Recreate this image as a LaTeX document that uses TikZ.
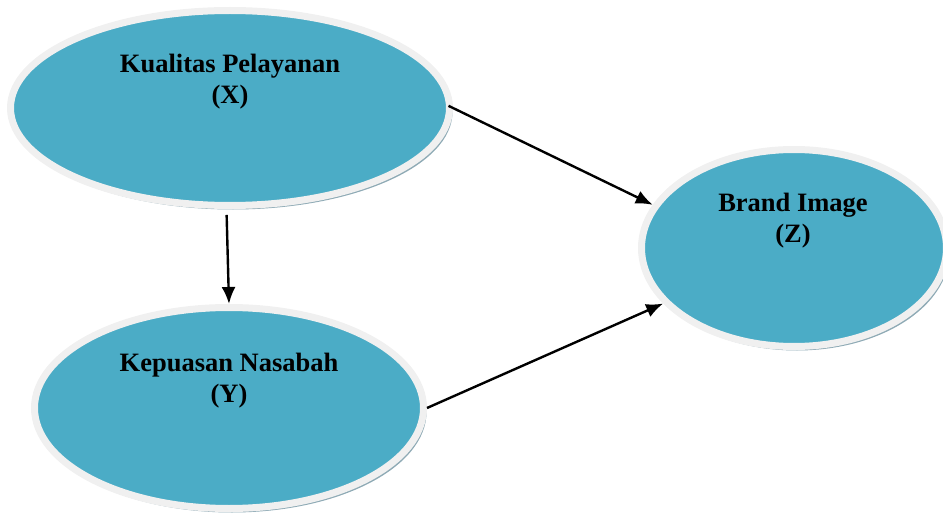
\documentclass[tikz,border=0pt]{standalone}
\usepackage{fontspec}
\setmainfont{Liberation Serif}
\usetikzlibrary{shapes.geometric,shadows,arrows.meta}
\definecolor{tealfill}{HTML}{4BACC6}
\definecolor{rimgrey}{HTML}{F0F0F0}
\definecolor{shadowblue}{HTML}{8EAAB5}

\begin{document}
\begin{tikzpicture}[x=0.5pt, y=-0.5pt,
  var/.style = {ellipse, draw=rimgrey, line width=3.5pt, fill=tealfill,
    drop shadow={shadow xshift=1.5pt, shadow yshift=-2pt, fill=shadowblue, opacity=1}},
  lbl/.style = {align=center, font=\fontsize{13.25}{15.5}\selectfont\bfseries},
  link/.style = {-{Latex[length=8.5pt,width=7pt]}, line width=1.2pt}]
	\useasboundingbox (0,0) rectangle (943,519);
	\node[var, minimum width=219.5pt, minimum height=97.5pt] (X) at (230,108){};
	\node[var, minimum width=194.5pt, minimum height=100.5pt] (Y) at (229,408){};
	\node[var, minimum width=152.5pt, minimum height=98.5pt] (Z) at (794,248){};
	\node[lbl] (Xt) at (230,82){Kualitas Pelayanan\\(X)};
	\node[lbl] (Yt) at (229,381){Kepuasan Nasabah\\(Y)};
	\node[lbl] (Zt) at (793,221){Brand Image\\(Z)};
	\draw[link, shorten <=3pt] (X.268) -- (Y.90);
	\draw[link, shorten <=-2.5pt] (X.0) -- (Z.163);
	\draw[link] (Y.0) -- (Z.203);
\end{tikzpicture}
\end{document}
